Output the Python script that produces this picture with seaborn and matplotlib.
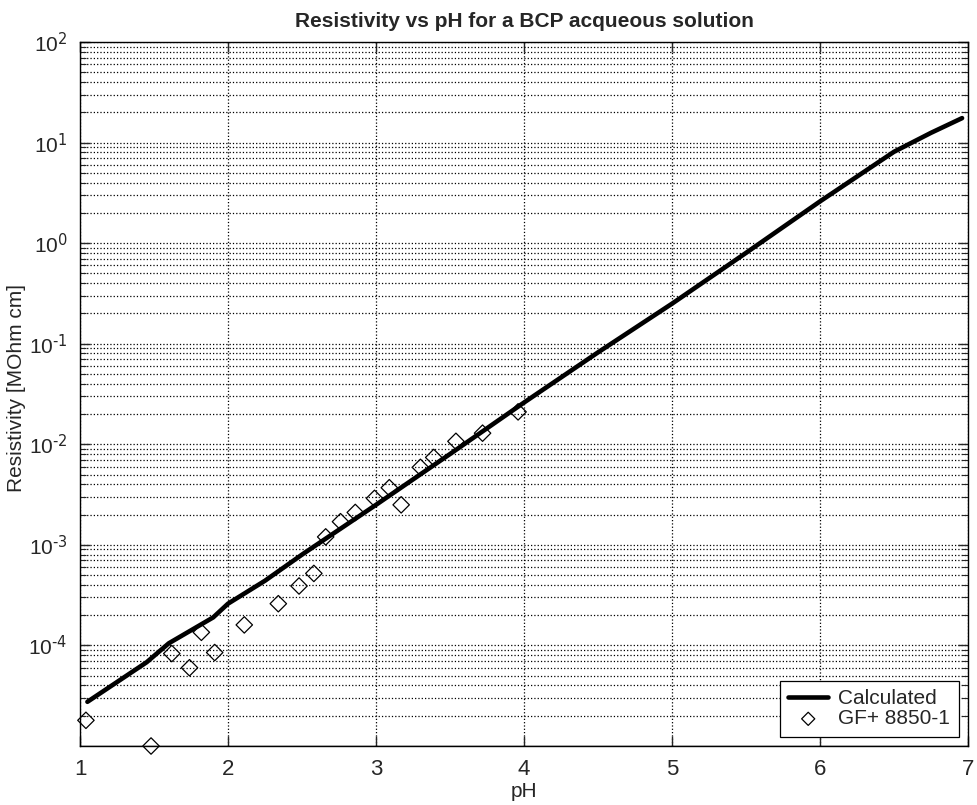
import numpy as np
import pandas as pd
import matplotlib
matplotlib.use('Agg')
import matplotlib.pyplot as plt
import seaborn as sns
from matplotlib.ticker import LogLocator, FixedLocator, NullFormatter, FixedFormatter

# Calculated curve
calc_ph = [1.05, 1.45, 1.60, 1.90, 2.0, 2.25, 2.5, 3.0, 3.5, 4.0, 4.5, 5.0, 5.5, 6.0, 6.5, 6.75, 6.96]
calc_res = [2.75e-5, 6.8e-5, 1.05e-4, 1.9e-4, 2.6e-4, 4.4e-4, 8.0e-4, 2.5e-3, 8.0e-3,
            2.6e-2, 8.2e-2, 0.25, 0.8, 2.6, 8.1, 12.5, 17.5]

# Measured points (GF+ 8850-1)
meas_ph = [1.04, 1.48, 1.62, 1.74, 1.82, 1.91, 2.11, 2.34, 2.48, 2.58, 2.66, 2.76, 2.86,
           2.99, 3.09, 3.17, 3.30, 3.39, 3.54, 3.72, 3.96]
meas_res = [1.8e-5, 1.0e-5, 8.3e-5, 6.0e-5, 1.35e-4, 8.5e-5, 1.6e-4, 2.6e-4, 3.9e-4, 5.2e-4,
            1.2e-3, 1.7e-3, 2.1e-3, 2.9e-3, 3.7e-3, 2.5e-3, 5.9e-3, 7.4e-3, 1.07e-2, 1.29e-2, 2.1e-2]

x_ticks = [1, 2, 3, 4, 5, 6, 7]
y_ticks = [1e-4, 1e-3, 1e-2, 1e-1, 1e0, 1e1, 1e2]
y_exps = ['-4', '-3', '-2', '-1', '0', '1', '2']

sns.set_style('ticks')
plt.rcParams['font.family'] = ['Liberation Sans', 'DejaVu Sans']

fig = plt.figure(figsize=(9.77, 8.05), dpi=100)
ax = fig.add_axes([80/977, 1-746/805, (968-80)/977, (746-42)/805])

calc_df = pd.DataFrame({'pH': calc_ph, 'res': calc_res})
meas_df = pd.DataFrame({'pH': meas_ph, 'res': meas_res})

sns.lineplot(data=calc_df, x='pH', y='res', ax=ax, color='black', linewidth=3.3,
             label='Calculated', sort=False)
sns.scatterplot(data=meas_df, x='pH', y='res', ax=ax, marker='D', s=70,
                facecolor='none', edgecolor='black', linewidth=0.9,
                label='GF+ 8850-1', clip_on=False, zorder=5)

ax.set_yscale('log')
ax.set_xlim(1, 7)
ax.set_ylim(1e-5, 1e2)
ax.xaxis.set_major_locator(FixedLocator(x_ticks))
ax.yaxis.set_major_locator(FixedLocator(y_ticks))
ax.yaxis.set_major_formatter(FixedFormatter(
    [r'$\mathregular{10^{\text{' + e + '}}}$' for e in y_exps]))
ax.yaxis.set_minor_locator(LogLocator(base=10, subs=np.arange(2, 10), numticks=20))
ax.yaxis.set_minor_formatter(NullFormatter())

ax.grid(True, which='major', axis='x', linestyle=':', color='black', linewidth=0.9)
ax.grid(True, which='both', axis='y', linestyle=':', color='black', linewidth=0.9)
ax.axhline(1e-5, color='black', linewidth=1.0)

ax.tick_params(which='both', direction='in', top=True, right=True, pad=9)
ax.tick_params(axis='x', labelsize=16)
ax.tick_params(axis='y', labelsize=15)
ax.tick_params(which='major', length=7, width=1)
ax.tick_params(which='minor', length=4, width=0.8)
for sp in ax.spines.values():
    sp.set_linewidth(1.0)
    sp.set_color('black')

ax.set_xlabel('pH', fontsize=15, labelpad=2)
ax.set_ylabel('Resistivity [MOhm cm]', fontsize=15)
ax.yaxis.set_label_coords(-0.061, 0.508)
ax.set_title('Resistivity vs pH for a BCP acqueous solution', fontsize=15,
             fontweight='bold', pad=11)

leg = ax.legend(loc='lower right', fontsize=15, frameon=True, fancybox=False,
                edgecolor='black', framealpha=1, borderaxespad=0.45,
                handlelength=1.9, handletextpad=0.5, borderpad=0.4,
                labelspacing=0.05, markerscale=0.8)
leg.get_frame().set_linewidth(0.9)

fig.savefig('out.png', dpi=100)
